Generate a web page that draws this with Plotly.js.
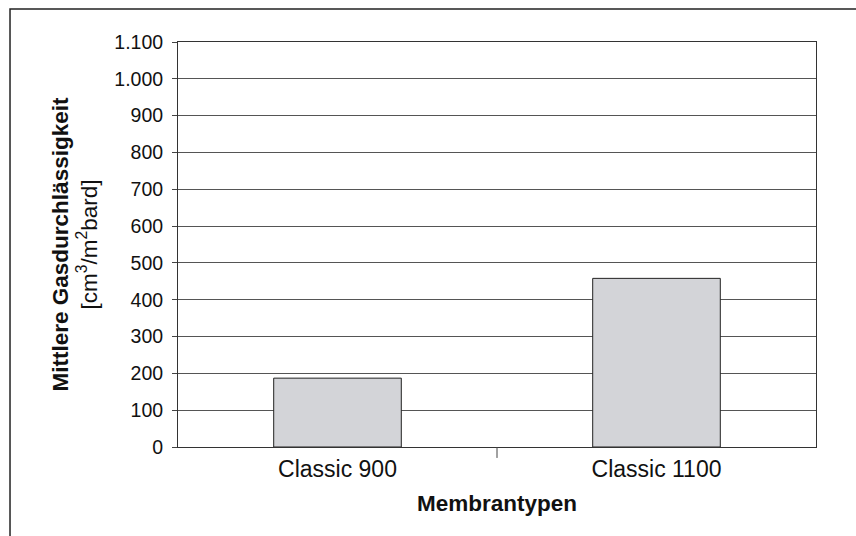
<!DOCTYPE html>
<html>
<head>
<meta charset="utf-8">
<script src="https://cdn.plot.ly/plotly-3.0.1.min.js"></script>
<style>html,body{margin:0;padding:0;background:#fff;}#chart{width:856px;height:536px;}</style>
</head>
<body>
<div id="chart"></div>
<script>
const categories = ["Classic 900", "Classic 1100"];
const values = [187, 458];
const yTickVals = [0, 100, 200, 300, 400, 500, 600, 700, 800, 900, 1000, 1100];

const FONT = "Liberation Sans, Arial, Helvetica, sans-serif";

const trace = {
  type: "bar",
  x: categories,
  y: values,
  width: 0.4,
  marker: { color: "#d3d4d8", line: { color: "#222", width: 1 } },
  hoverinfo: "skip"
};

const layout = {
  width: 856,
  height: 536,
  margin: { l: 178, r: 40, t: 42, b: 89 },
  paper_bgcolor: "#fff",
  plot_bgcolor: "#fff",
  separators: ",.",
  showlegend: false,
  font: { family: FONT, color: "#111" },
  xaxis: {
    type: "category",
    ticks: "",
    ticklabelstandoff: 1,
    showline: true,
    linecolor: "#333",
    linewidth: 1,
    mirror: true,
    showgrid: false,
    tickfont: { size: 23, family: FONT, color: "#111" },
    title: { text: "<b>Membrantypen</b>", font: { size: 22.5, family: FONT, color: "#111" }, standoff: 14 }
  },
  yaxis: {
    range: [0, 1100],
    tickvals: yTickVals,
    tickformat: ",d",
    ticks: "outside",
    ticklen: 5,
    tickcolor: "#444",
    ticklabelstandoff: 5,
    showline: true,
    linecolor: "#333",
    linewidth: 1,
    mirror: true,
    showgrid: true,
    gridcolor: "#555",
    gridwidth: 1,
    zeroline: false,
    tickfont: { size: 19.5, family: FONT, color: "#111" },
    title: { text: "<b>Mittlere Gasdurchlässigkeit</b><br>[cm<sup>3</sup>/m<sup>2</sup>bard]", font: { size: 22.5, family: FONT, color: "#111" }, standoff: 10 }
  },
  shapes: [
    { type: "rect", xref: "paper", yref: "paper", x0: -0.2633, x1: 1.3, y0: -0.4, y1: 1.0815,
      line: { color: "#222", width: 1.5 }, fillcolor: "rgba(0,0,0,0)", layer: "below" },
    { type: "line", xref: "x", yref: "paper", x0: 0.5, x1: 0.5, y0: 0, y1: -0.027,
      line: { color: "#444", width: 1 } }
  ]
};

Plotly.newPlot("chart", [trace], layout, { staticPlot: true, displayModeBar: false });
</script>
</body>
</html>
